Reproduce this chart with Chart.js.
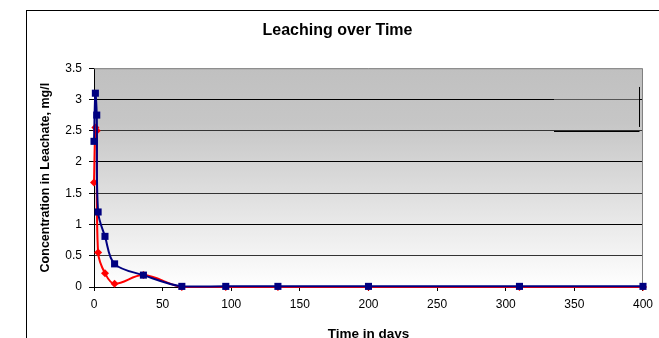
<!DOCTYPE html>
<html>
<head>
<meta charset="utf-8">
<script src="https://cdn.jsdelivr.net/npm/chart.js@4.4.1/dist/chart.umd.min.js"></script>
<style>
  html, body { margin: 0; padding: 0; background: #fff; overflow: hidden; }
  #frame { position: absolute; left: 26px; top: 10px; width: 700px; height: 400px; border: 1px solid #000; }
  #wrap { position: absolute; left: 0; top: 0; width: 659px; height: 338px; }
</style>
</head>
<body>
<div id="frame"></div>
<div id="wrap"><canvas id="leaching" width="659" height="338"></canvas></div>
<script>
// time of sampling (days)
const days = [0, 1, 2, 3, 8, 15, 36, 64, 96, 134, 200, 310, 400];
// concentration in leachate, mg/l
const seriesBlue = [2.33, 3.1, 2.75, 1.2, 0.81, 0.37, 0.19, 0.01, 0.01, 0.01, 0.01, 0.01, 0.01];
const seriesRed = [1.67, 2.55, 2.5, 0.55, 0.22, 0.05, 0.19, 0, 0, 0, 0, 0, 0];

const xTicks = [0, 50, 100, 150, 200, 250, 300, 350, 400];
const yTicks = [0, 0.5, 1, 1.5, 2, 2.5, 3, 3.5];

// leftover of an empty legend box in the upper right corner
const stubX = [335, 397];
const stubY = [2.5, 3, 3.2];

const ctx = document.getElementById('leaching');

function toPoints(xs, ys) {
    return xs.map((x, i) => ({ x: x, y: ys[i] }));
}

const plotBackground = {
    id: 'plotBackground',
    beforeDraw(chart) {
        const a = chart.chartArea;
        const c = chart.ctx;
        const g = c.createLinearGradient(0, a.top, 0, a.bottom);
        g.addColorStop(0, '#c0c0c0');
        g.addColorStop(0.25, '#c6c6c6');
        g.addColorStop(1, '#ffffff');
        c.save();
        c.fillStyle = g;
        c.fillRect(a.left, a.top, a.right - a.left, a.bottom - a.top);
        c.restore();
    },
    beforeDatasetsDraw(chart) {
        const a = chart.chartArea;
        const c = chart.ctx;
        const xs = chart.scales.x;
        const ys = chart.scales.y;
        c.save();
        // gray top / right edge of the plot area
        c.strokeStyle = '#808080';
        c.lineWidth = 1;
        c.beginPath();
        c.moveTo(a.left, a.top + 0.5);
        c.lineTo(a.right - 0.5, a.top + 0.5);
        c.lineTo(a.right - 0.5, a.bottom);
        c.stroke();

        // legend stub
        const x0 = Math.round(xs.getPixelForValue(stubX[0]));
        const x1 = Math.round(xs.getPixelForValue(stubX[1])) + 0.5;
        c.strokeStyle = '#555';
        c.beginPath();
        c.moveTo(x0, Math.round(ys.getPixelForValue(stubY[1])) + 0.5);
        c.lineTo(x1, Math.round(ys.getPixelForValue(stubY[1])) + 0.5);
        c.stroke();
        c.strokeStyle = '#000';
        c.beginPath();
        c.moveTo(x0, Math.round(ys.getPixelForValue(stubY[0])) + 0.5);
        c.lineTo(x1, Math.round(ys.getPixelForValue(stubY[0])) + 0.5);
        c.moveTo(x1, ys.getPixelForValue(stubY[2]));
        c.lineTo(x1, ys.getPixelForValue(stubY[0] + 0.06));
        c.stroke();
        c.restore();
    }
};

new Chart(ctx, {
    type: 'line',
    data: {
        datasets: [{
            label: 'Series 1',
            data: toPoints(days, seriesBlue),
            borderColor: '#000080',
            backgroundColor: '#000080',
            borderWidth: 2,
            pointStyle: 'rect',
            pointRadius: 5,
            pointBorderWidth: 0,
            tension: 0.35,
            clip: false,
            order: 0
        }, {
            label: 'Series 2',
            data: toPoints(days, seriesRed),
            borderColor: '#ff0000',
            backgroundColor: '#ff0000',
            borderWidth: 2,
            pointStyle: 'rectRot',
            pointRadius: 4,
            pointBorderWidth: 0,
            tension: 0.35,
            clip: false,
            order: 1
        }]
    },
    options: {
        responsive: false,
        animation: false,
        layout: {
            padding: { left: 30, right: 14, top: 10, bottom: 0 }
        },
        plugins: {
            legend: { display: false },
            tooltip: { enabled: false },
            title: {
                display: true,
                text: 'Leaching over Time',
                color: '#000',
                font: { family: 'Liberation Sans, Arial, sans-serif', size: 16, weight: 'bold', lineHeight: 1.2 },
                padding: { top: 11, bottom: 28 }
            }
        },
        scales: {
            x: {
                type: 'linear',
                min: 0,
                max: 400,
                afterBuildTicks: (scale) => { scale.ticks = xTicks.map(v => ({ value: v })); },
                afterFit: (scale) => { scale.height = 51; },
                border: { color: '#000', width: 1 },
                grid: { drawOnChartArea: false, tickLength: 4, tickColor: '#000' },
                ticks: {
                    color: '#000',
                    padding: 6,
                    maxRotation: 0,
                    callback: (v) => String(v),
                    font: { family: 'Liberation Sans, Arial, sans-serif', size: 12 }
                },
                title: {
                    display: true,
                    text: 'Time in days',
                    color: '#000',
                    padding: { top: -3, bottom: -3 },
                    font: { family: 'Liberation Sans, Arial, sans-serif', size: 13.5, weight: 'bold', lineHeight: 1 }
                }
            },
            y: {
                min: 0,
                max: 3.5,
                afterBuildTicks: (scale) => { scale.ticks = yTicks.map(v => ({ value: v })); },
                afterFit: (scale) => { scale.width = 64; },
                border: { color: '#000', width: 1 },
                grid: {
                    color: (c) => {
                        const v = c.tick ? c.tick.value : 0;
                        if (v === 3.5) return 'rgba(0,0,0,0)';
                        return Number.isInteger(v) ? '#000' : '#333';
                    },
                    tickLength: 5,
                    tickColor: '#000'
                },
                ticks: {
                    color: '#000',
                    padding: 7,
                    callback: (v) => String(v),
                    font: { family: 'Liberation Sans, Arial, sans-serif', size: 12 }
                },
                title: {
                    display: true,
                    text: 'Concentration in Leachate, mg/l',
                    color: '#000',
                    padding: { top: 8, bottom: 0 },
                    font: { family: 'Liberation Sans, Arial, sans-serif', size: 12.5, weight: 'bold' }
                }
            }
        }
    },
    plugins: [plotBackground]
});
</script>
</body>
</html>
